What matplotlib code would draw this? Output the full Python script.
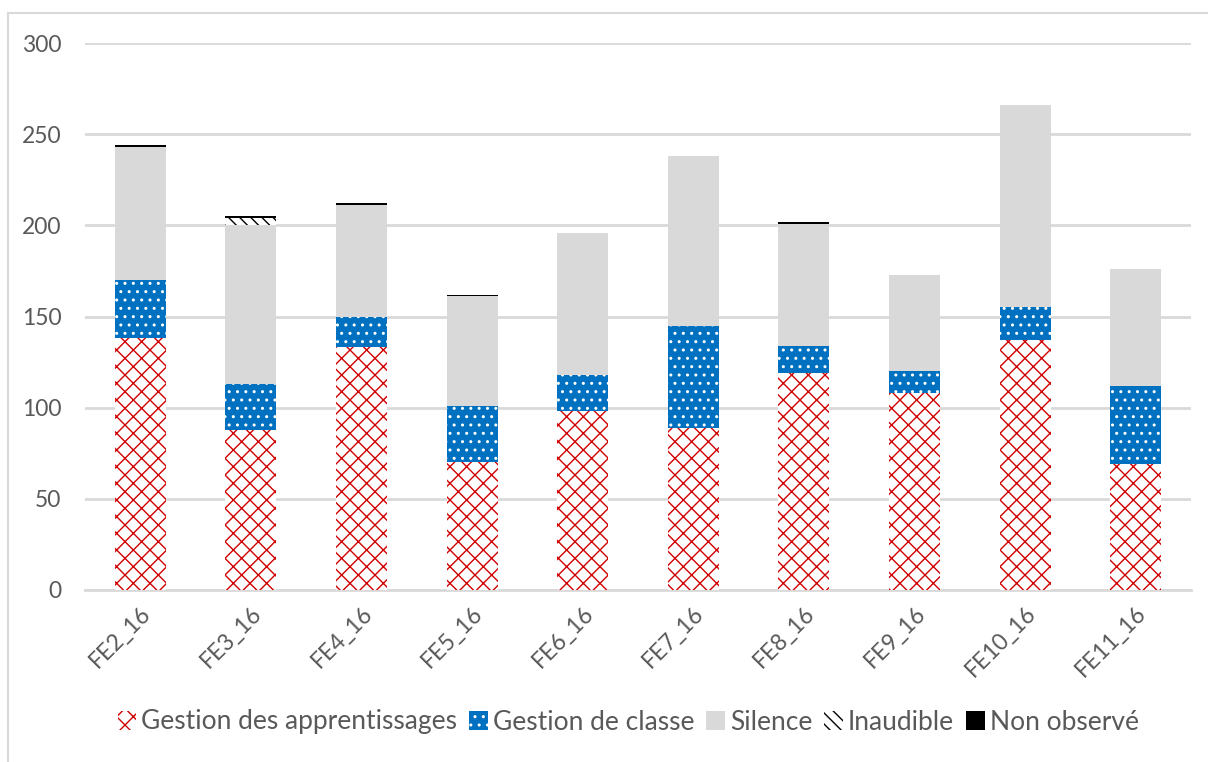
import numpy as np
import matplotlib.pyplot as plt
from matplotlib.patches import Patch, Rectangle

plt.rcParams['font.family'] = ['Lato', 'DejaVu Sans']
plt.rcParams['hatch.linewidth'] = 1.0

# Durées par séance (FE*_16)
seances = ['FE2_16', 'FE3_16', 'FE4_16', 'FE5_16', 'FE6_16',
           'FE7_16', 'FE8_16', 'FE9_16', 'FE10_16', 'FE11_16']
gestion_app = [138, 88, 133, 70, 98, 89, 119, 108, 137, 69]
gestion_classe = [32, 25, 17, 31, 20, 56, 15, 12, 18, 43]
silence = [73, 87, 61, 60, 78, 93, 67, 53, 111, 64]
inaudible = [0, 4, 0, 0, 0, 0, 0, 0, 0, 0]
non_observe = [1, 1, 1, 1, 0, 0, 1, 0, 0, 0]

series = [
    ('Gestion des apprentissages', gestion_app, dict(facecolor='white', edgecolor='#D00000', hatch='xx')),
    ('Gestion de classe', gestion_classe, dict(facecolor='#0070C0', edgecolor='white', hatch='..')),
    ('Silence', silence, dict(facecolor='#D9D9D9', edgecolor='#D9D9D9')),
    ('Inaudible', inaudible, dict(facecolor='white', edgecolor='black', hatch='\\\\\\')),
    ('Non observé', non_observe, dict(facecolor='black', edgecolor='black')),
]

fig = plt.figure(figsize=(12.08, 7.62), dpi=100)
ax = fig.add_axes([85 / 1208, 1 - 590 / 762, 1106 / 1208, 547 / 762])

x = np.arange(len(seances))
bottom = np.zeros(len(seances))
handles = []
for label, vals, style in series:
    vals = np.array(vals, dtype=float)
    ax.bar(x, vals, 0.46, bottom=bottom, linewidth=0, zorder=3, **style)
    bottom += vals
    handles.append(Patch(label=label, linewidth=0, **style))

ax.set_xlim(-0.5, len(seances) - 0.5)
ax.set_ylim(0, 300)
ax.set_yticks(range(0, 301, 50))
ax.yaxis.grid(True, color='#D9D9D9', linewidth=2, zorder=0)
for s in ['top', 'right', 'left']:
    ax.spines[s].set_visible(False)
ax.spines['bottom'].set_color('#D9D9D9')
ax.spines['bottom'].set_linewidth(2)
ax.tick_params(axis='both', length=0, labelsize=16.5, colors='#595959')
ax.tick_params(axis='y', pad=17)
ax.tick_params(axis='x', pad=9)
ax.set_xticks(x)
ax.set_xticklabels(seances, rotation=45, ha='right', rotation_mode='anchor')

fig.legend(handles=handles, loc='center', bbox_to_anchor=(0.52, 1 - 722 / 762),
           ncol=5, frameon=False, fontsize=19, handlelength=0.7, handleheight=0.7,
           handletextpad=0.2, columnspacing=0.45, labelcolor='#595959')

# cadre du graphique
fig.patches.append(Rectangle((8 / 1208, -0.1), 1.2, 1.1 - 13 / 762, transform=fig.transFigure,
                             fill=False, edgecolor='#D9D9D9', linewidth=1.5))

fig.savefig('out.png', dpi=100)
